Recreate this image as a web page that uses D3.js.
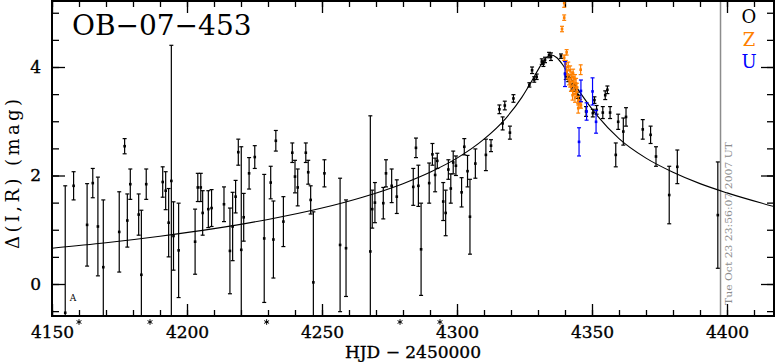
<!DOCTYPE html>
<html>
<head>
<meta charset="utf-8">
<script src="https://cdn.jsdelivr.net/npm/d3@7"></script>
<style>
body{margin:0;background:#fff;overflow:hidden}
svg{display:block}
svg text{font-family:"DejaVu Serif",serif}
</style>
</head>
<body>
<div id="chart"></div>
<script>
// light curve of OB-07-453
const title='OB−07−453'
const xLabel='HJD − 2450000'
const yLabel='Δ(I,R) (mag)'
const stamp='Tue Oct 23 23:56:07 2007 UT'
const xTicks=[4150,4200,4250,4300,4350,4400]
const yTicks=[0,2,4]
const legendNames=['O','Z','U']
const legendColors=['#000','#ff8000','#0000ff']
const nowT=4397.6
const markT=[4160,4186.3,4229.5,4278.9,4293.7]

// [HJD, mag, err]
const ogle=[
 [4154.9,-0.53,2.34],[4158.0,1.81,0.26],[4163.0,1.09,0.76],[4165.1,1.86,0.27],[4167.0,1.06,0.91],
 [4169.0,0.31,1.24],[4174.9,0.96,0.74],[4176.9,2.54,0.14],[4177.9,1.17,0.49],[4179.0,1.84,0.28],
 [4182.1,1.28,0.38],[4183.1,0.17,1.19],[4184.9,1.84,0.28],[4191.0,1.88,0.28],[4192.1,1.72,0.35],
 [4193.2,1.13,0.63],[4194.2,1.9,2.5],[4195.0,0.885,0.63],[4196.9,0.62,0.87],[4203.0,0.78,0.60],
 [4204.0,1.78,0.26],[4205.1,1.78,0.26],[4205.8,1.31,0.41],[4207.9,1.38,0.34],[4209.1,1.40,0.34],
 [4213.7,1.47,0.32],[4215.9,0.61,0.79],[4216.9,1.06,0.63],[4218.0,1.61,0.30],[4219.0,2.43,0.24],
 [4220.1,0.63,1.9],[4221.0,1.23,0.44],[4223.0,2.04,0.29],[4225.1,2.34,0.21],[4228.6,0.84,1.18],
 [4231.0,1.87,0.30],[4232.0,0.82,0.71],[4232.9,2.64,0.19],[4235.7,1.15,0.46],[4239.0,2.42,0.18],
 [4240.0,1.98,0.30],[4241.0,1.78,0.34],[4244.0,2.42,0.18],[4244.9,2.06,0.22],[4245.8,1.55,0.26],
 [4246.8,0.03,1.30],[4250.9,2.04,0.25],[4256.7,0.72,1.23],[4258.9,0.66,0.89],[4267.9,0.6,2.5],
 [4268.6,1.38,0.35],[4269.6,1.50,0.37],[4272.7,1.49,0.29],[4273.7,2.04,0.25],[4275.8,1.81,0.31],
 [4277.7,1.61,0.31],[4283.8,1.79,0.34],[4284.8,2.51,0.18],[4285.7,1.81,0.38],[4286.7,0.64,0.85],
 [4289.7,1.86,0.37],[4290.9,2.39,0.20],[4291.9,2.01,0.31],[4292.7,2.27,0.14],[4294.9,1.52,0.35],
 [4295.8,1.31,0.42],[4296.8,2.11,0.18],[4297.7,1.76,0.27],[4298.6,2.24,0.21],[4299.6,2.18,0.18],
 [4301.7,1.69,0.27],[4302.7,2.53,0.15],[4303.9,2.08,0.29],[4304.8,1.24,0.69],[4306.8,2.22,0.27],
 [4310.7,2.38,0.29],[4312.6,2.55,0.11],[4315.7,3.22,0.08],[4316.9,2.96,0.12],[4317.7,3.29,0.08],
 [4319.6,2.79,0.12],[4320.9,3.42,0.07],[4326.8,3.67,0.04],[4327.8,3.94,0.06],[4328.6,3.77,0.05],
 [4329.5,3.82,0.05],[4331.4,4.10,0.05],[4332.0,4.06,0.05],[4332.6,4.13,0.05],[4334.1,4.22,0.05],
 [4334.8,4.19,0.07],[4338.5,4.20,0.04],[4340.3,3.83,0.06],[4341.2,3.79,0.06],[4342.5,3.63,0.06],
 [4343.7,3.61,0.06],[4344.7,3.48,0.06],[4345.2,3.42,0.06],[4347.8,3.18,0.09],[4350.3,3.15,0.07],
 [4350.9,3.39,0.06],[4351.7,3.21,0.08],[4354.0,3.16,0.11],[4354.9,3.48,0.08],[4355.7,3.58,0.07],
 [4356.7,3.16,0.11],[4358.8,2.38,0.22],[4359.7,2.99,0.14],[4361.6,2.81,0.25],[4362.6,3.08,0.17],
 [4368.8,2.85,0.18],[4371.7,2.75,0.16],[4373.7,2.35,0.18],[4378.6,1.64,0.53],[4381.6,2.16,0.31],
 [4396.6,1.27,0.98]
]
const zPts=[
 [4339.7,5.18,0.08],[4339.7,4.91,0.05],[4338.9,4.70,0.05],[4340.6,4.27,0.05],[4339.7,4.17,0.05],
 [4340.3,4.06,0.06],[4341.2,4.01,0.08],[4341.9,3.94,0.08],[4340.6,3.93,0.07],[4342.5,3.82,0.09],
 [4341.5,3.76,0.09],[4343.1,3.73,0.09],[4344.1,3.70,0.09],[4342.2,3.64,0.09],[4343.3,3.58,0.09],
 [4344.3,3.54,0.09],[4345.8,3.95,0.09],[4342.8,3.48,0.09],[4343.7,3.43,0.08],[4344.9,3.38,0.08],
 [4345.6,3.33,0.07],[4344.9,3.24,0.09],[4345.9,3.30,0.06],[4340.9,3.86,0.08],[4343.0,3.88,0.08],
 [4344.4,3.62,0.08],[4341.9,3.71,0.08],[4343.7,3.78,0.08]
]
const uPts=[
 [4340.0,3.87,0.23],[4345.9,3.56,0.20],[4350.2,3.55,0.25],[4348.0,3.18,0.16],[4351.5,2.99,0.21],
 [4345.2,2.62,0.26]
]
// fitted model
const modelT=[4150,4170,4190,4210,4230,4250,4265,4280,4290,4300,4310,4318,4324,4328,4331,4333,4335,4337,4339,4342,4346,4352,4360,4370,4380,4390,4400,4418]
const modelMag=[0.66,0.76,0.88,1.02,1.19,1.40,1.60,1.85,2.06,2.32,2.67,3.05,3.44,3.77,4.03,4.17,4.22,4.17,4.05,3.80,3.50,3.10,2.68,2.32,2.06,1.85,1.68,1.42]

const margin=({top:1,right:2,bottom:46,left:52})
const width=776-margin.left-margin.right,
  height=362-margin.top-margin.bottom

let svg=d3.select('#chart').append('svg')
	.attr('width',776)
	.attr('height',362)
let g=svg.append('g')
	.attr('transform','translate('+margin.left+','+margin.top+')')

let xScale=d3.scaleLinear()
	.domain([4150,4150+width/2.7])
	.range([0,width])
let yScale=d3.scaleLinear()
	.domain([-(height-283)/54.25,283/54.25])
	.range([height,0])

svg.append('clipPath').attr('id','clip')
	.append('rect').attr('width',width).attr('height',height)

// axes, ticks pointing inward
function axis(gen,size,vals,fmt,tr,pad){
	let a=g.append('g').attr('transform',tr||null)
		.call(gen.tickValues(vals).tickSize(-size).tickPadding(pad||11).tickFormat(fmt))
	a.select('.domain').remove()
	a.selectAll('line').attr('stroke','#000').attr('stroke-width',1.3)
	a.selectAll('text').attr('font-size',17).attr('fill','#000')
		.attr('stroke','#000').attr('stroke-width',0.35).attr('font-family','DejaVu Serif')
	return a
}
const xMinor=d3.range(4150,4418,10), yMinor=d3.range(-0.5,5.3,0.5)
axis(d3.axisBottom(xScale),12,xTicks,d3.format('d'),`translate(0,${height})`,10)
axis(d3.axisBottom(xScale),6,xMinor,()=>'',`translate(0,${height})`)
axis(d3.axisTop(xScale),12,xTicks,()=>'')
axis(d3.axisTop(xScale),6,xMinor,()=>'')
axis(d3.axisLeft(yScale),13,yTicks,d3.format('d'))
axis(d3.axisLeft(yScale),7,yMinor,()=>'')
axis(d3.axisRight(yScale),13,yTicks,()=>'',`translate(${width},0)`)
axis(d3.axisRight(yScale),7,yMinor,()=>'',`translate(${width},0)`)

let plot=g.append('g').attr('clip-path','url(#clip)')

// current-time line and stamp
plot.append('line')
	.attr('x1',xScale(nowT)).attr('x2',xScale(nowT))
	.attr('y1',0).attr('y2',height)
	.attr('stroke','#8c8c8c').attr('stroke-width',1.5)

plot.append('path')
	.datum(modelT.map((t,i)=>[t,modelMag[i]]))
	.attr('fill','none').attr('stroke','#000').attr('stroke-width',1.1)
	.attr('d',d3.line().x(d=>xScale(d[0])).y(d=>yScale(d[1])).curve(d3.curveMonotoneX))

function errPoints(data,color,cap){
	let s=plot.append('g').attr('stroke',color).attr('stroke-width',1.2)
	data.forEach(d=>{
		let x=xScale(d[0]),y0=yScale(d[1]+d[2]),y1=yScale(d[1]-d[2])
		s.append('line').attr('x1',x).attr('x2',x).attr('y1',y0).attr('y2',y1)
		s.append('line').attr('x1',x-cap).attr('x2',x+cap).attr('y1',y0).attr('y2',y0)
		s.append('line').attr('x1',x-cap).attr('x2',x+cap).attr('y1',y1).attr('y2',y1)
		s.append('rect').attr('x',x-1.3).attr('y',yScale(d[1])-1.3)
			.attr('width',2.6).attr('height',2.6).attr('fill',color).attr('stroke','none')
	})
}
errPoints(ogle,legendColors[0],2)
errPoints(zPts,legendColors[1],2)
errPoints(uPts,legendColors[2],2)

g.append('rect')
	.attr('width',width).attr('height',height)
	.attr('fill','none').attr('stroke','#000').attr('stroke-width',2)

g.append('text')
	.attr('transform',`translate(${xScale(nowT)+11},${height-11}) rotate(-90)`)
	.attr('font-size',10).attr('fill','#8c8c8c')
	.attr('textLength',163).attr('lengthAdjust','spacingAndGlyphs')
	.text(stamp)

// small asterisk markers under the axis
g.selectAll('.mark').data(markT).enter().append('path')
	.attr('transform',d=>`translate(${xScale(d)},${height+6})`)
	.attr('d',d3.symbol(d3.symbolAsterisk,22))
	.attr('fill','none').attr('stroke','#000').attr('stroke-width',1)

// labels
svg.append('text').attr('x',72).attr('y',35)
	.attr('font-size',28).text(title)

svg.selectAll('.leg').data(legendNames).enter().append('text')
	.attr('x',749).attr('y',(d,i)=>23+i*22.5)
	.attr('text-anchor','middle').attr('font-size',18)
	.attr('fill',(d,i)=>legendColors[i]).text(d=>d)

svg.append('text').attr('x',413).attr('y',358.3)
	.attr('text-anchor','middle').attr('font-size',17)
	.attr('stroke','#000').attr('stroke-width',0.35).text(xLabel)

svg.append('text')
	.attr('transform','translate(19,174) rotate(-90)')
	.attr('text-anchor','middle').attr('font-size',18)
	.attr('textLength',150).attr('lengthAdjust','spacing')
	.text(yLabel)

svg.append('text').attr('x',73).attr('y',301)
	.attr('text-anchor','middle').attr('font-size',9).attr('fill','#000').text('A')
</script>
</body>
</html>
